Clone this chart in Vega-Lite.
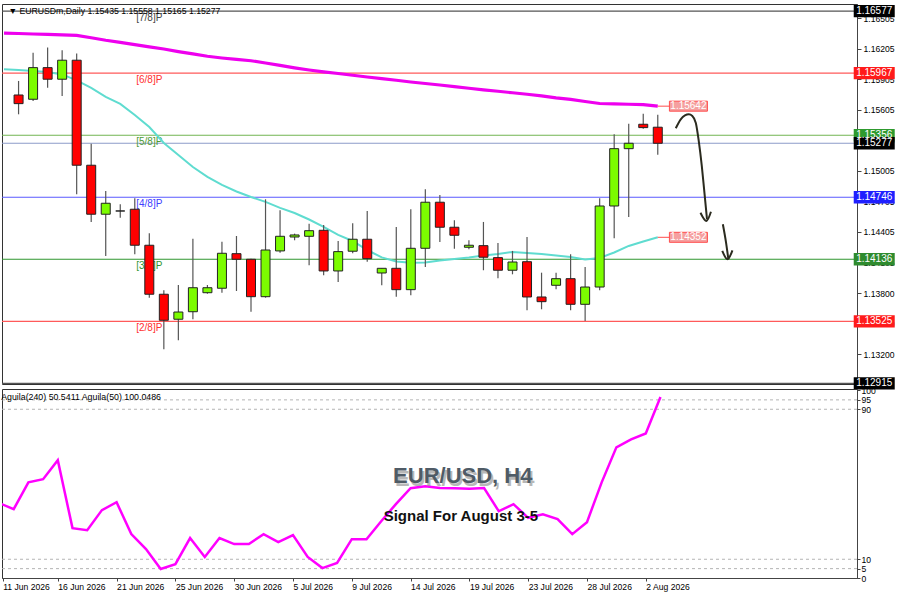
{
  "$schema": "https://vega.github.io/schema/vega-lite/v6.json",
  "background": "white",
  "padding": {"left": 0, "top": 3, "right": 0, "bottom": 0},
  "spacing": 5,
  "bounds": "flush",
  "config": {
    "view": {"stroke": "#333333", "strokeWidth": 1},
    "axis": {"labelFont": "Liberation Sans", "labelFontSize": 8.6, "labelColor": "#000000", "tickColor": "#444444", "domainColor": "#444444", "grid": false}
  },
  "datasets": {
    "candles": [
      {"i":0,"open":1.15752,"high":1.15890,"low":1.15562,"close":1.15667},
      {"i":1,"open":1.15710,"high":1.16168,"low":1.15693,"close":1.16021},
      {"i":2,"open":1.16021,"high":1.16218,"low":1.15824,"close":1.15907},
      {"i":3,"open":1.15907,"high":1.16192,"low":1.15742,"close":1.16094},
      {"i":4,"open":1.16094,"high":1.16159,"low":1.14775,"close":1.15061},
      {"i":5,"open":1.15061,"high":1.15273,"low":1.14503,"close":1.14579},
      {"i":6,"open":1.14579,"high":1.14808,"low":1.14168,"close":1.14687},
      {"i":7,"open":1.14611,"high":1.14677,"low":1.14545,"close":1.14611},
      {"i":8,"open":1.14628,"high":1.14736,"low":1.14185,"close":1.14274},
      {"i":9,"open":1.14274,"high":1.14392,"low":1.13758,"close":1.13792},
      {"i":10,"open":1.13792,"high":1.13831,"low":1.13250,"close":1.13536},
      {"i":11,"open":1.13546,"high":1.13883,"low":1.13339,"close":1.13617},
      {"i":12,"open":1.13620,"high":1.14339,"low":1.13546,"close":1.13856},
      {"i":13,"open":1.13807,"high":1.13883,"low":1.13797,"close":1.13856},
      {"i":14,"open":1.13851,"high":1.14309,"low":1.13807,"close":1.14195},
      {"i":15,"open":1.14191,"high":1.14365,"low":1.13824,"close":1.14136},
      {"i":16,"open":1.14136,"high":1.14142,"low":1.13620,"close":1.13768},
      {"i":17,"open":1.13768,"high":1.14726,"low":1.13758,"close":1.14227},
      {"i":18,"open":1.14218,"high":1.14618,"low":1.14201,"close":1.14362},
      {"i":19,"open":1.14355,"high":1.14388,"low":1.14323,"close":1.14375},
      {"i":20,"open":1.14362,"high":1.14486,"low":1.14077,"close":1.14417},
      {"i":21,"open":1.14421,"high":1.14473,"low":1.13978,"close":1.14021},
      {"i":22,"open":1.14021,"high":1.14316,"low":1.13913,"close":1.14211},
      {"i":23,"open":1.14215,"high":1.14490,"low":1.14195,"close":1.14333},
      {"i":24,"open":1.14333,"high":1.14611,"low":1.14112,"close":1.14142},
      {"i":25,"open":1.14001,"high":1.14047,"low":1.13880,"close":1.14047},
      {"i":26,"open":1.14047,"high":1.14454,"low":1.13768,"close":1.13837},
      {"i":27,"open":1.13837,"high":1.14628,"low":1.13782,"close":1.14244},
      {"i":28,"open":1.14244,"high":1.14825,"low":1.14060,"close":1.14697},
      {"i":29,"open":1.14697,"high":1.14768,"low":1.14306,"close":1.14451},
      {"i":30,"open":1.14451,"high":1.14520,"low":1.14240,"close":1.14372},
      {"i":31,"open":1.14254,"high":1.14323,"low":1.14234,"close":1.14274},
      {"i":32,"open":1.14270,"high":1.14503,"low":1.14028,"close":1.14156},
      {"i":33,"open":1.14152,"high":1.14296,"low":1.13949,"close":1.14028},
      {"i":34,"open":1.14028,"high":1.14218,"low":1.13988,"close":1.14109},
      {"i":35,"open":1.14112,"high":1.14355,"low":1.13634,"close":1.13765},
      {"i":36,"open":1.13765,"high":1.14004,"low":1.13644,"close":1.13719},
      {"i":37,"open":1.13880,"high":1.14004,"low":1.13841,"close":1.13945},
      {"i":38,"open":1.13945,"high":1.14185,"low":1.13634,"close":1.13693},
      {"i":39,"open":1.13693,"high":1.14060,"low":1.13529,"close":1.13863},
      {"i":40,"open":1.13863,"high":1.14736,"low":1.13831,"close":1.14660},
      {"i":41,"open":1.14660,"high":1.15366,"low":1.14342,"close":1.15224},
      {"i":42,"open":1.15224,"high":1.15470,"low":1.14552,"close":1.15277},
      {"i":43,"open":1.15464,"high":1.15568,"low":1.15421,"close":1.15431},
      {"i":44,"open":1.15435,"high":1.15558,"low":1.15165,"close":1.15277}
    ],
    "ma": [
      {"i":-1,"slow":1.16360,"fast":1.16006},
      {"i":0,"slow":1.16357,"fast":1.15998},
      {"i":1,"slow":1.16352,"fast":1.15988},
      {"i":2,"slow":1.16348,"fast":1.15979},
      {"i":3,"slow":1.16344,"fast":1.15954},
      {"i":4,"slow":1.16338,"fast":1.15895},
      {"i":5,"slow":1.16315,"fast":1.15821},
      {"i":6,"slow":1.16290,"fast":1.15733},
      {"i":7,"slow":1.16269,"fast":1.15664},
      {"i":8,"slow":1.16248,"fast":1.15556},
      {"i":9,"slow":1.16226,"fast":1.15437},
      {"i":10,"slow":1.16204,"fast":1.15280},
      {"i":11,"slow":1.16179,"fast":1.15162},
      {"i":12,"slow":1.16156,"fast":1.15044},
      {"i":13,"slow":1.16133,"fast":1.14946},
      {"i":14,"slow":1.16116,"fast":1.14867},
      {"i":15,"slow":1.16102,"fast":1.14803},
      {"i":16,"slow":1.16089,"fast":1.14749},
      {"i":17,"slow":1.16067,"fast":1.14700},
      {"i":18,"slow":1.16043,"fast":1.14641},
      {"i":19,"slow":1.16019,"fast":1.14591},
      {"i":20,"slow":1.15998,"fast":1.14527},
      {"i":21,"slow":1.15980,"fast":1.14454},
      {"i":22,"slow":1.15963,"fast":1.14375},
      {"i":23,"slow":1.15946,"fast":1.14316},
      {"i":24,"slow":1.15929,"fast":1.14227},
      {"i":25,"slow":1.15913,"fast":1.14154},
      {"i":26,"slow":1.15897,"fast":1.14114},
      {"i":27,"slow":1.15880,"fast":1.14102},
      {"i":28,"slow":1.15865,"fast":1.14104},
      {"i":29,"slow":1.15850,"fast":1.14124},
      {"i":30,"slow":1.15834,"fast":1.14139},
      {"i":31,"slow":1.15818,"fast":1.14154},
      {"i":32,"slow":1.15803,"fast":1.14173},
      {"i":33,"slow":1.15789,"fast":1.14188},
      {"i":34,"slow":1.15774,"fast":1.14208},
      {"i":35,"slow":1.15759,"fast":1.14198},
      {"i":36,"slow":1.15744,"fast":1.14188},
      {"i":37,"slow":1.15723,"fast":1.14173},
      {"i":38,"slow":1.15708,"fast":1.14159},
      {"i":39,"slow":1.15688,"fast":1.14134},
      {"i":40,"slow":1.15668,"fast":1.14149},
      {"i":41,"slow":1.15664,"fast":1.14203},
      {"i":42,"slow":1.15661,"fast":1.14267},
      {"i":43,"slow":1.15657,"fast":1.14311},
      {"i":44,"slow":1.15642,"fast":1.14352}
    ],
    "levels": [
      {"name":"7/8","price":1.16577,"label":"[7/8]P"},
      {"name":"6/8","price":1.15967,"label":"[6/8]P"},
      {"name":"5/8","price":1.15356,"label":"[5/8]P"},
      {"name":"4/8","price":1.14746,"label":"[4/8]P"},
      {"name":"3/8","price":1.14136,"label":"[3/8]P"},
      {"name":"2/8","price":1.13525,"label":"[2/8]P"},
      {"name":"1/8","price":1.12915,"label":""},
      {"name":"bid","price":1.15277,"label":""}
    ],
    "maLabels": [
      {"name":"slow","price":1.15642},
      {"name":"fast","price":1.14352}
    ],
    "arrows": [
      {"seg":"a1","ord":0,"i":45.24,"p":1.15425},
      {"seg":"a1","ord":1,"i":45.58,"p":1.15513},
      {"seg":"a1","ord":2,"i":45.87,"p":1.15551},
      {"seg":"a1","ord":3,"i":46.14,"p":1.15562},
      {"seg":"a1","ord":4,"i":46.38,"p":1.15546},
      {"seg":"a1","ord":5,"i":46.62,"p":1.15477},
      {"seg":"a1","ord":6,"i":46.82,"p":1.15300},
      {"seg":"a1","ord":7,"i":47.03,"p":1.15054},
      {"seg":"a1","ord":8,"i":47.20,"p":1.14808},
      {"seg":"a1","ord":9,"i":47.39,"p":1.14529},
      {"seg":"h1","ord":0,"i":46.94,"p":1.14594},
      {"seg":"h1","ord":1,"i":47.35,"p":1.14513},
      {"seg":"h1","ord":2,"i":47.66,"p":1.14604},
      {"seg":"a2","ord":0,"i":48.48,"p":1.14480},
      {"seg":"a2","ord":1,"i":48.70,"p":1.14300},
      {"seg":"a2","ord":2,"i":48.86,"p":1.14136},
      {"seg":"h2","ord":0,"i":48.44,"p":1.14218},
      {"seg":"h2","ord":1,"i":48.80,"p":1.14136},
      {"seg":"h2","ord":2,"i":49.14,"p":1.14224}
    ],
    "aguila": [
      {"i":-1,"v":40},{"i":0,"v":36.7},{"i":1,"v":51},{"i":2,"v":52.7},{"i":3,"v":62.8},
      {"i":4,"v":26.6},{"i":5,"v":25.5},{"i":6,"v":36.2},{"i":7,"v":40.4},{"i":8,"v":23.4},
      {"i":9,"v":15.4},{"i":10,"v":4.8},{"i":11,"v":7.4},{"i":12,"v":21.3},{"i":13,"v":11.2},
      {"i":14,"v":21.3},{"i":15,"v":18.1},{"i":16,"v":18.1},{"i":17,"v":23.4},{"i":18,"v":19.1},
      {"i":19,"v":22.9},{"i":20,"v":11.2},{"i":21,"v":5.3},{"i":22,"v":8},{"i":23,"v":20.7},
      {"i":24,"v":20.7},{"i":25,"v":30.3},{"i":26,"v":39.4},{"i":27,"v":47.9},{"i":28,"v":48.9},
      {"i":29,"v":48},{"i":30,"v":47.9},{"i":31,"v":47.6},{"i":32,"v":48},{"i":33,"v":35.6},
      {"i":34,"v":39.4},{"i":35,"v":32.1},{"i":36,"v":34},{"i":37,"v":31.4},{"i":38,"v":23.4},
      {"i":39,"v":29.8},{"i":40,"v":51},{"i":41,"v":69.7},{"i":42,"v":73.9},{"i":43,"v":77.1},
      {"i":44,"v":96.5}
    ],
    "bands": [{"v":95},{"v":90},{"v":10},{"v":5}],
    "one": [{}]
  },
  "vconcat": [
    {
      "width": 855,
      "height": 380,
      "layer": [
        {
          "data": {"name": "levels"},
          "mark": {"type": "rule", "strokeWidth": 1.2},
          "encoding": {
            "y": {"field": "price", "type": "quantitative", "title": null, "scale": {"domain": [1.12909, 1.16647], "nice": false, "zero": false},
              "axis": {"orient": "right", "values": [1.16505,1.16205,1.15905,1.15605,1.15305,1.15005,1.14705,1.14405,1.14105,1.138,1.135,1.132], "format": ".5f", "tickSize": 4, "labelPadding": 2, "title": null}},
            "stroke": {"field": "name", "type": "nominal", "legend": null,
              "scale": {"domain": ["7/8","6/8","5/8","4/8","3/8","2/8","1/8","bid"], "range": ["#555555","#ff5a5a","#72b552","#5a5aff","#2f962f","#ff5a5a","#555555","#8d9bc9"]}}
          }
        },
        {
          "data": {"name": "levels"},
          "transform": [{"filter": "datum.label != ''"}],
          "mark": {"type": "text", "align": "left", "baseline": "top", "dy": 2, "font": "Liberation Sans", "fontSize": 10},
          "encoding": {
            "x": {"datum": 8.1, "type": "quantitative", "scale": {"domain": [-0.796, 57.37], "nice": false, "zero": false}, "axis": null},
            "y": {"field": "price", "type": "quantitative", "title": null, "scale": {"domain": [1.12909, 1.16647], "nice": false, "zero": false},
              "axis": {"orient": "right", "values": [1.16505,1.16205,1.15905,1.15605,1.15305,1.15005,1.14705,1.14405,1.14105,1.138,1.135,1.132], "format": ".5f", "tickSize": 4, "labelPadding": 2, "title": null}},
            "text": {"field": "label"},
            "color": {"field": "name", "type": "nominal", "legend": null,
              "scale": {"domain": ["7/8","6/8","5/8","4/8","3/8","2/8"], "range": ["#444444","#ff3030","#4f9a33","#4040ff","#2f962f","#ff3030"]}}
          }
        },
        {
          "data": {"name": "ma"},
          "mark": {"type": "line", "color": "#ee00ee", "strokeWidth": 3.2, "clip": true},
          "encoding": {
            "x": {"field": "i", "type": "quantitative", "scale": {"domain": [-0.796, 57.37], "nice": false, "zero": false}, "axis": null},
            "y": {"field": "slow", "type": "quantitative", "title": null, "scale": {"domain": [1.12909, 1.16647], "nice": false, "zero": false},
              "axis": {"orient": "right", "values": [1.16505,1.16205,1.15905,1.15605,1.15305,1.15005,1.14705,1.14405,1.14105,1.138,1.135,1.132], "format": ".5f", "tickSize": 4, "labelPadding": 2, "title": null}}
          }
        },
        {
          "data": {"name": "ma"},
          "mark": {"type": "line", "color": "#5fdcd0", "strokeWidth": 2, "clip": true},
          "encoding": {
            "x": {"field": "i", "type": "quantitative", "scale": {"domain": [-0.796, 57.37], "nice": false, "zero": false}, "axis": null},
            "y": {"field": "fast", "type": "quantitative", "title": null, "scale": {"domain": [1.12909, 1.16647], "nice": false, "zero": false},
              "axis": {"orient": "right", "values": [1.16505,1.16205,1.15905,1.15605,1.15305,1.15005,1.14705,1.14405,1.14105,1.138,1.135,1.132], "format": ".5f", "tickSize": 4, "labelPadding": 2, "title": null}}
          }
        },
        {
          "data": {"name": "candles"},
          "mark": {"type": "rule", "color": "#555555", "strokeWidth": 1.2},
          "encoding": {
            "x": {"field": "i", "type": "quantitative", "scale": {"domain": [-0.796, 57.37], "nice": false, "zero": false}, "axis": null},
            "y": {"field": "low", "type": "quantitative", "title": null, "scale": {"domain": [1.12909, 1.16647], "nice": false, "zero": false},
              "axis": {"orient": "right", "values": [1.16505,1.16205,1.15905,1.15605,1.15305,1.15005,1.14705,1.14405,1.14105,1.138,1.135,1.132], "format": ".5f", "tickSize": 4, "labelPadding": 2, "title": null}},
            "y2": {"field": "high"}
          }
        },
        {
          "data": {"name": "candles"},
          "mark": {"type": "bar", "width": 9, "stroke": "#222222", "strokeWidth": 1},
          "encoding": {
            "x": {"field": "i", "type": "quantitative", "scale": {"domain": [-0.796, 57.37], "nice": false, "zero": false}, "axis": null},
            "y": {"field": "open", "type": "quantitative", "title": null, "scale": {"domain": [1.12909, 1.16647], "nice": false, "zero": false},
              "axis": {"orient": "right", "values": [1.16505,1.16205,1.15905,1.15605,1.15305,1.15005,1.14705,1.14405,1.14105,1.138,1.135,1.132], "format": ".5f", "tickSize": 4, "labelPadding": 2, "title": null}},
            "y2": {"field": "close"},
            "fill": {"condition": {"test": "datum.close >= datum.open", "value": "#7cfc00"}, "value": "#ff0000"}
          }
        },
        {
          "data": {"name": "levels"},
          "mark": {"type": "point", "filled": true, "opacity": 1, "size": 1681, "shape": "M-1,-0.3L1,-0.3L1,0.3L-1,0.3Z", "clip": false},
          "encoding": {
            "x": {"datum": 58.9, "type": "quantitative", "scale": {"domain": [-0.796, 57.37], "nice": false, "zero": false}, "axis": null},
            "y": {"field": "price", "type": "quantitative", "title": null, "scale": {"domain": [1.12909, 1.16647], "nice": false, "zero": false},
              "axis": {"orient": "right", "values": [1.16505,1.16205,1.15905,1.15605,1.15305,1.15005,1.14705,1.14405,1.14105,1.138,1.135,1.132], "format": ".5f", "tickSize": 4, "labelPadding": 2, "title": null}},
            "fill": {"field": "name", "type": "nominal", "legend": null,
              "scale": {"domain": ["7/8","6/8","5/8","4/8","3/8","2/8","1/8","bid"], "range": ["#000000","#ff1a1a","#2e9a2e","#1f1fff","#2e8b2e","#ff1a1a","#000000","#000000"]}}
          }
        },
        {
          "data": {"name": "levels"},
          "mark": {"type": "text", "color": "white", "align": "center", "baseline": "middle", "font": "Liberation Sans", "fontSize": 10, "clip": false},
          "encoding": {
            "x": {"datum": 58.9, "type": "quantitative", "scale": {"domain": [-0.796, 57.37], "nice": false, "zero": false}, "axis": null},
            "y": {"field": "price", "type": "quantitative", "title": null, "scale": {"domain": [1.12909, 1.16647], "nice": false, "zero": false},
              "axis": {"orient": "right", "values": [1.16505,1.16205,1.15905,1.15605,1.15305,1.15005,1.14705,1.14405,1.14105,1.138,1.135,1.132], "format": ".5f", "tickSize": 4, "labelPadding": 2, "title": null}},
            "text": {"field": "price", "type": "quantitative", "format": ".5f"}
          }
        },
        {
          "data": {"name": "maLabels"},
          "mark": {"type": "rule", "color": "#ff4d4d", "strokeWidth": 1},
          "encoding": {
            "x": {"datum": 44, "type": "quantitative", "scale": {"domain": [-0.796, 57.37], "nice": false, "zero": false}, "axis": null},
            "x2": {"datum": 45},
            "y": {"field": "price", "type": "quantitative", "title": null, "scale": {"domain": [1.12909, 1.16647], "nice": false, "zero": false},
              "axis": {"orient": "right", "values": [1.16505,1.16205,1.15905,1.15605,1.15305,1.15005,1.14705,1.14405,1.14105,1.138,1.135,1.132], "format": ".5f", "tickSize": 4, "labelPadding": 2, "title": null}}
          }
        },
        {
          "data": {"name": "maLabels"},
          "mark": {"type": "point", "filled": true, "opacity": 1, "size": 1444, "shape": "M-1,-0.263L1,-0.263L1,0.263L-1,0.263Z", "fill": "#f5a0a0", "stroke": "#ff4d4d", "strokeWidth": 1},
          "encoding": {
            "x": {"datum": 46.11, "type": "quantitative", "scale": {"domain": [-0.796, 57.37], "nice": false, "zero": false}, "axis": null},
            "y": {"field": "price", "type": "quantitative", "title": null, "scale": {"domain": [1.12909, 1.16647], "nice": false, "zero": false},
              "axis": {"orient": "right", "values": [1.16505,1.16205,1.15905,1.15605,1.15305,1.15005,1.14705,1.14405,1.14105,1.138,1.135,1.132], "format": ".5f", "tickSize": 4, "labelPadding": 2, "title": null}}
          }
        },
        {
          "data": {"name": "maLabels"},
          "mark": {"type": "text", "color": "white", "align": "center", "baseline": "middle", "font": "Liberation Sans", "fontSize": 10},
          "encoding": {
            "x": {"datum": 46.11, "type": "quantitative", "scale": {"domain": [-0.796, 57.37], "nice": false, "zero": false}, "axis": null},
            "y": {"field": "price", "type": "quantitative", "title": null, "scale": {"domain": [1.12909, 1.16647], "nice": false, "zero": false},
              "axis": {"orient": "right", "values": [1.16505,1.16205,1.15905,1.15605,1.15305,1.15005,1.14705,1.14405,1.14105,1.138,1.135,1.132], "format": ".5f", "tickSize": 4, "labelPadding": 2, "title": null}},
            "text": {"field": "price", "type": "quantitative", "format": ".5f"}
          }
        },
        {
          "data": {"name": "arrows"},
          "mark": {"type": "line", "color": "#2b2b1f", "strokeWidth": 2, "interpolate": "monotone"},
          "encoding": {
            "x": {"field": "i", "type": "quantitative", "scale": {"domain": [-0.796, 57.37], "nice": false, "zero": false}, "axis": null},
            "y": {"field": "p", "type": "quantitative", "title": null, "scale": {"domain": [1.12909, 1.16647], "nice": false, "zero": false},
              "axis": {"orient": "right", "values": [1.16505,1.16205,1.15905,1.15605,1.15305,1.15005,1.14705,1.14405,1.14105,1.138,1.135,1.132], "format": ".5f", "tickSize": 4, "labelPadding": 2, "title": null}},
            "detail": {"field": "seg"},
            "order": {"field": "ord"}
          }
        },
        {
          "data": {"name": "one"},
          "mark": {"type": "text", "text": "▼ EURUSDm,Daily  1.15435 1.15558 1.15165 1.15277", "align": "left", "baseline": "middle", "font": "Liberation Sans", "fontSize": 8.7, "color": "#000000"},
          "encoding": {
            "x": {"datum": -0.7, "type": "quantitative", "scale": {"domain": [-0.796, 57.37], "nice": false, "zero": false}, "axis": null},
            "y": {"datum": 1.16579, "type": "quantitative", "title": null, "scale": {"domain": [1.12909, 1.16647], "nice": false, "zero": false},
              "axis": {"orient": "right", "values": [1.16505,1.16205,1.15905,1.15605,1.15305,1.15005,1.14705,1.14405,1.14105,1.138,1.135,1.132], "format": ".5f", "tickSize": 4, "labelPadding": 2, "title": null}}
          }
        }
      ]
    },
    {
      "width": 855,
      "height": 189,
      "layer": [
        {
          "data": {"name": "bands"},
          "mark": {"type": "rule", "color": "#b4b4b4", "strokeWidth": 1, "strokeDash": [3, 3]},
          "encoding": {
            "y": {"field": "v", "type": "quantitative", "title": null, "scale": {"domain": [0, 100.8], "nice": false, "zero": false},
              "axis": {"orient": "right", "values": [0, 5, 10, 90, 95, 100], "tickSize": 3, "labelPadding": 1, "title": null}}
          }
        },
        {
          "data": {"name": "aguila"},
          "mark": {"type": "line", "color": "#ff00ff", "strokeWidth": 2.5, "clip": true},
          "encoding": {
            "x": {"field": "i", "type": "quantitative", "title": null, "scale": {"domain": [-0.796, 57.37], "nice": false, "zero": false},
              "axis": {"orient": "bottom", "values": [-0.75,3,7,11,15,19,23,27,31,35,39,43], "labelAlign": "left", "tickSize": 3, "labelPadding": 1, "title": null,
                "labelExpr": "datum.value < 0 ? '11 Jun 2026' : ['16 Jun 2026','21 Jun 2026','25 Jun 2026','30 Jun 2026','5 Jul 2026','9 Jul 2026','14 Jul 2026','19 Jul 2026','23 Jul 2026','28 Jul 2026','2 Aug 2026'][round((datum.value - 3) / 4)]"}},
            "y": {"field": "v", "type": "quantitative", "title": null, "scale": {"domain": [0, 100.8], "nice": false, "zero": false},
              "axis": {"orient": "right", "values": [0, 5, 10, 90, 95, 100], "tickSize": 3, "labelPadding": 1, "title": null}}
          }
        },
        {
          "data": {"name": "one"},
          "mark": {"type": "text", "text": "Aguila(240) 50.5411  Aguila(50) 100.0486", "align": "left", "baseline": "middle", "font": "Liberation Sans", "fontSize": 8.8, "color": "#000000"},
          "encoding": {
            "x": {"datum": -0.85, "type": "quantitative", "title": null, "scale": {"domain": [-0.796, 57.37], "nice": false, "zero": false},
              "axis": {"orient": "bottom", "values": [-0.75,3,7,11,15,19,23,27,31,35,39,43], "labelAlign": "left", "tickSize": 3, "labelPadding": 1, "title": null,
                "labelExpr": "datum.value < 0 ? '11 Jun 2026' : ['16 Jun 2026','21 Jun 2026','25 Jun 2026','30 Jun 2026','5 Jul 2026','9 Jul 2026','14 Jul 2026','19 Jul 2026','23 Jul 2026','28 Jul 2026','2 Aug 2026'][round((datum.value - 3) / 4)]"}},
            "y": {"datum": 96.3, "type": "quantitative", "title": null, "scale": {"domain": [0, 100.8], "nice": false, "zero": false},
              "axis": {"orient": "right", "values": [0, 5, 10, 90, 95, 100], "tickSize": 3, "labelPadding": 1, "title": null}}
          }
        },
        {
          "data": {"name": "one"},
          "mark": {"type": "text", "text": "EUR/USD, H4", "align": "center", "baseline": "middle", "font": "Liberation Sans", "fontWeight": "bold", "fontSize": 22, "color": "#8a8a8a", "opacity": 0.6, "dx": 2, "dy": 3},
          "encoding": {
            "x": {"datum": 30.55, "type": "quantitative", "title": null, "scale": {"domain": [-0.796, 57.37], "nice": false, "zero": false},
              "axis": {"orient": "bottom", "values": [-0.75,3,7,11,15,19,23,27,31,35,39,43], "labelAlign": "left", "tickSize": 3, "labelPadding": 1, "title": null,
                "labelExpr": "datum.value < 0 ? '11 Jun 2026' : ['16 Jun 2026','21 Jun 2026','25 Jun 2026','30 Jun 2026','5 Jul 2026','9 Jul 2026','14 Jul 2026','19 Jul 2026','23 Jul 2026','28 Jul 2026','2 Aug 2026'][round((datum.value - 3) / 4)]"}},
            "y": {"datum": 54.4, "type": "quantitative", "title": null, "scale": {"domain": [0, 100.8], "nice": false, "zero": false},
              "axis": {"orient": "right", "values": [0, 5, 10, 90, 95, 100], "tickSize": 3, "labelPadding": 1, "title": null}}
          }
        },
        {
          "data": {"name": "one"},
          "mark": {"type": "text", "text": "EUR/USD, H4", "align": "center", "baseline": "middle", "font": "Liberation Sans", "fontWeight": "bold", "fontSize": 22, "color": "#4f5b66"},
          "encoding": {
            "x": {"datum": 30.55, "type": "quantitative", "title": null, "scale": {"domain": [-0.796, 57.37], "nice": false, "zero": false},
              "axis": {"orient": "bottom", "values": [-0.75,3,7,11,15,19,23,27,31,35,39,43], "labelAlign": "left", "tickSize": 3, "labelPadding": 1, "title": null,
                "labelExpr": "datum.value < 0 ? '11 Jun 2026' : ['16 Jun 2026','21 Jun 2026','25 Jun 2026','30 Jun 2026','5 Jul 2026','9 Jul 2026','14 Jul 2026','19 Jul 2026','23 Jul 2026','28 Jul 2026','2 Aug 2026'][round((datum.value - 3) / 4)]"}},
            "y": {"datum": 54.4, "type": "quantitative", "title": null, "scale": {"domain": [0, 100.8], "nice": false, "zero": false},
              "axis": {"orient": "right", "values": [0, 5, 10, 90, 95, 100], "tickSize": 3, "labelPadding": 1, "title": null}}
          }
        },
        {
          "data": {"name": "one"},
          "mark": {"type": "text", "text": "Signal For August 3-5", "align": "center", "baseline": "middle", "font": "Liberation Sans", "fontWeight": "bold", "fontSize": 15, "color": "#111111"},
          "encoding": {
            "x": {"datum": 30.42, "type": "quantitative", "title": null, "scale": {"domain": [-0.796, 57.37], "nice": false, "zero": false},
              "axis": {"orient": "bottom", "values": [-0.75,3,7,11,15,19,23,27,31,35,39,43], "labelAlign": "left", "tickSize": 3, "labelPadding": 1, "title": null,
                "labelExpr": "datum.value < 0 ? '11 Jun 2026' : ['16 Jun 2026','21 Jun 2026','25 Jun 2026','30 Jun 2026','5 Jul 2026','9 Jul 2026','14 Jul 2026','19 Jul 2026','23 Jul 2026','28 Jul 2026','2 Aug 2026'][round((datum.value - 3) / 4)]"}},
            "y": {"datum": 33.1, "type": "quantitative", "title": null, "scale": {"domain": [0, 100.8], "nice": false, "zero": false},
              "axis": {"orient": "right", "values": [0, 5, 10, 90, 95, 100], "tickSize": 3, "labelPadding": 1, "title": null}}
          }
        }
      ]
    }
  ]
}
